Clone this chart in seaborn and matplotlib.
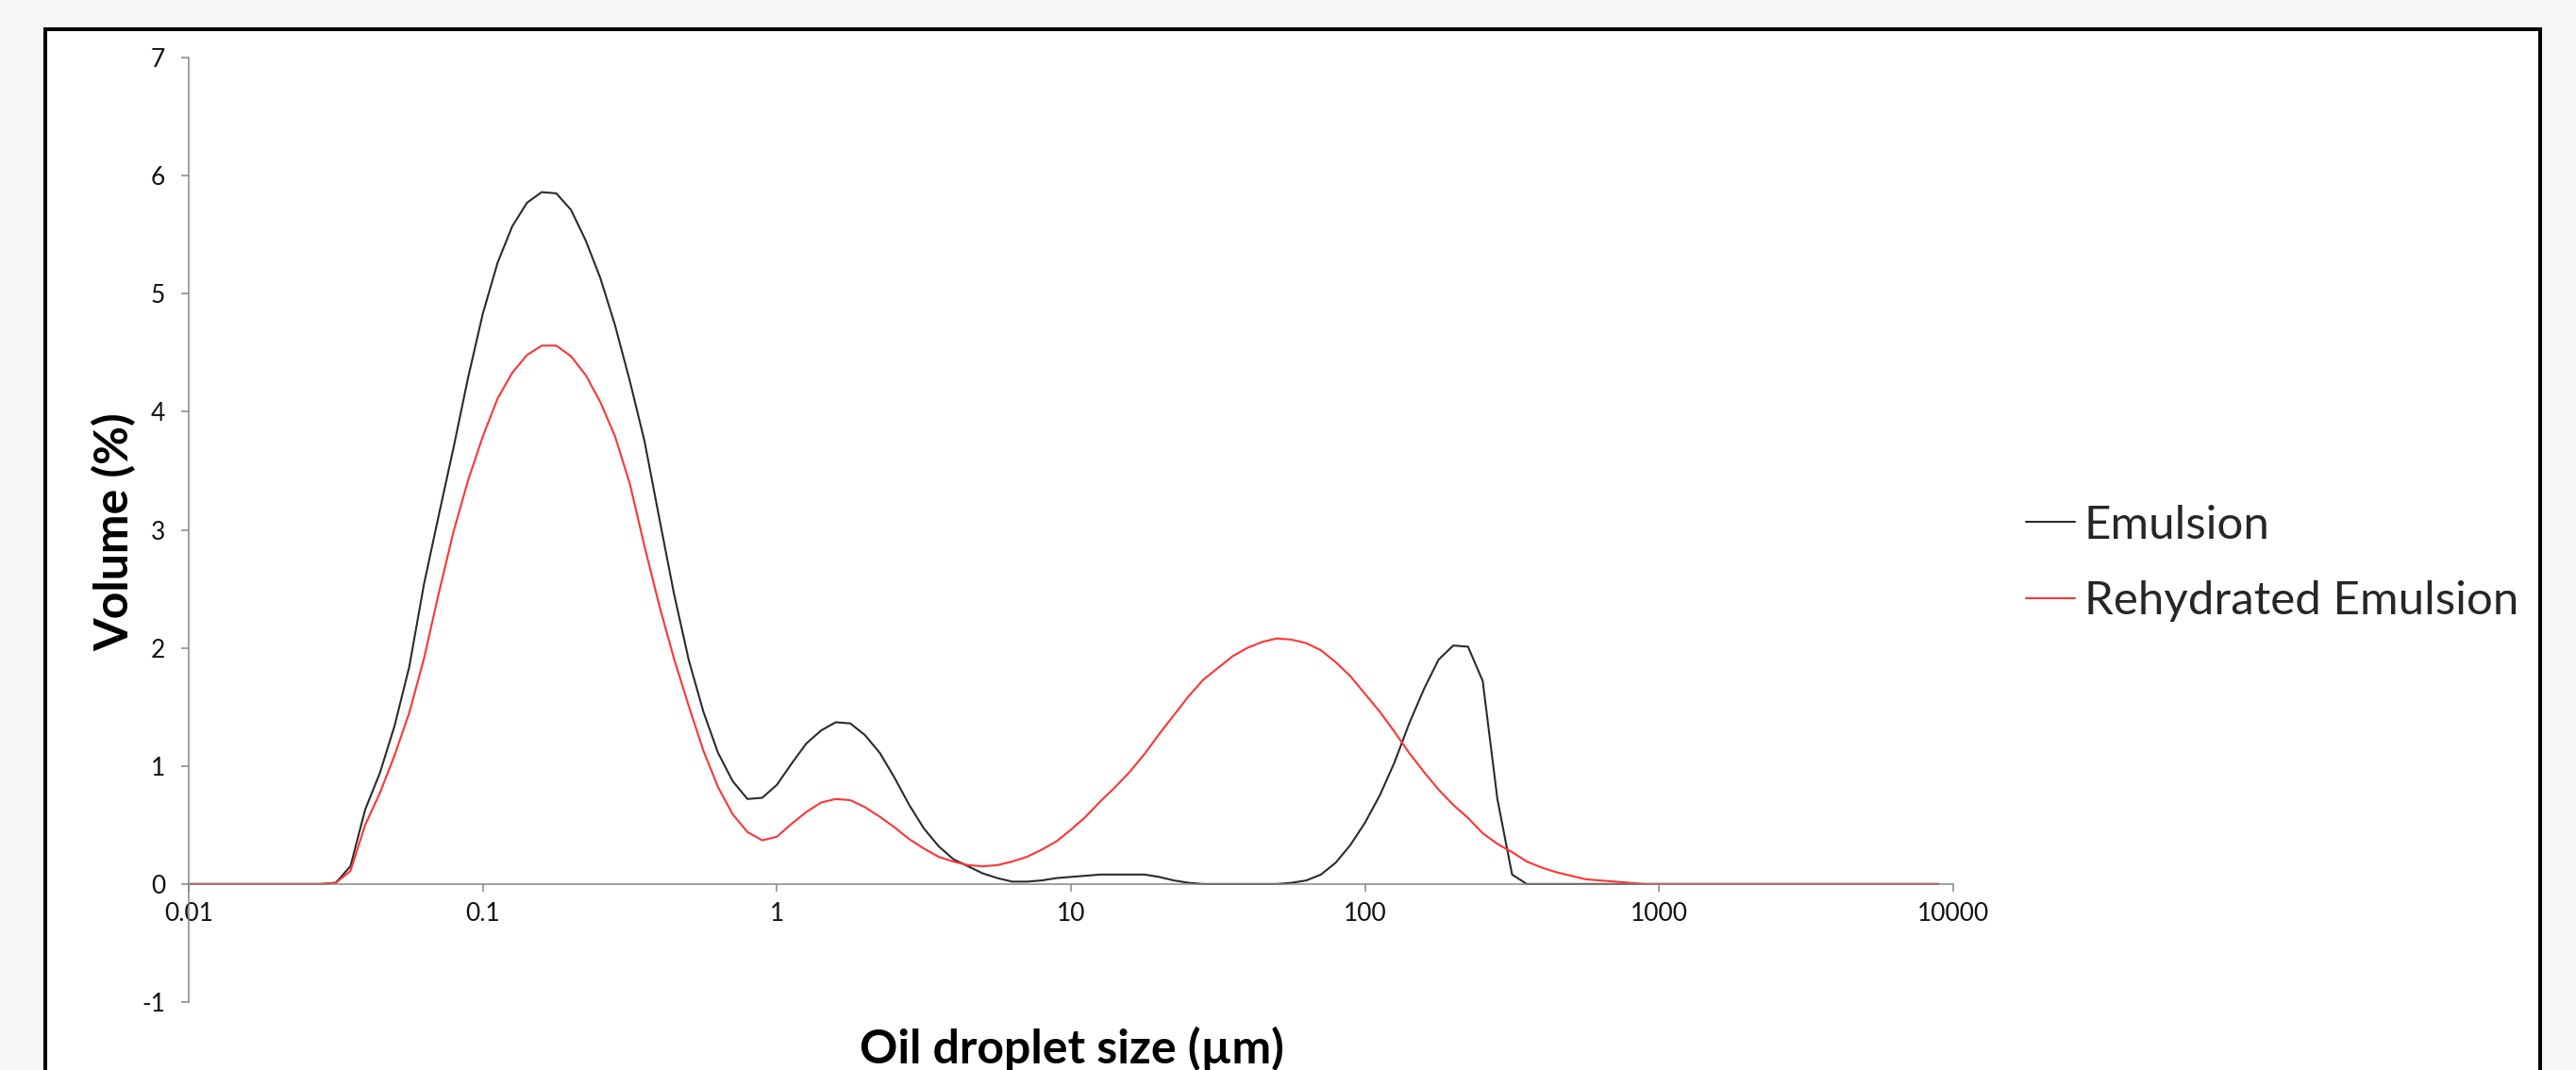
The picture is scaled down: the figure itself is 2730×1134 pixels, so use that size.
import matplotlib
matplotlib.use("Agg")
import matplotlib.pyplot as plt
from matplotlib.patches import Rectangle
import pandas as pd
import seaborn as sns

# ---------------- data ----------------
sizes_um = [
    0.01, 0.01122, 0.01259, 0.01413, 0.01585, 0.01778, 0.01995, 0.02239, 0.02512, 0.02818,
    0.03162, 0.03548, 0.03981, 0.04467, 0.05012, 0.05623, 0.0631, 0.07079, 0.07943, 0.08913,
    0.1, 0.1122, 0.1259, 0.1413, 0.1585, 0.1778, 0.1995, 0.2239, 0.2512, 0.2818,
    0.3162, 0.3548, 0.3981, 0.4467, 0.5012, 0.5623, 0.631, 0.7079, 0.7943, 0.8913,
    1.0, 1.122, 1.259, 1.413, 1.585, 1.778, 1.995, 2.239, 2.512, 2.818,
    3.162, 3.548, 3.981, 4.467, 5.012, 5.623, 6.31, 7.079, 7.943, 8.913,
    10.0, 11.22, 12.59, 14.13, 15.85, 17.78, 19.95, 22.39, 25.12, 28.18,
    31.62, 35.48, 39.81, 44.67, 50.12, 56.23, 63.1, 70.79, 79.43, 89.13,
    100.0, 112.2, 125.9, 141.3, 158.5, 177.8, 199.5, 223.9, 251.2, 281.8,
    316.2, 354.8, 398.1, 446.7, 501.2, 562.3, 631.0, 707.9, 794.3, 891.3,
    1000, 1122, 1259, 1413, 1585, 1778, 1995, 2239, 2512, 2818,
    3162, 3548, 3981, 4467, 5012, 5623, 6310, 7079, 7943, 8913,
]

emulsion = [
    0, 0, 0, 0, 0, 0, 0, 0, 0, 0,
    0.01, 0.15, 0.63, 0.94, 1.34, 1.84, 2.54, 3.12, 3.69, 4.29,
    4.83, 5.26, 5.57, 5.77, 5.86, 5.85, 5.71, 5.45, 5.13, 4.73,
    4.26, 3.75, 3.10, 2.46, 1.90, 1.46, 1.11, 0.87, 0.72, 0.73,
    0.84, 1.02, 1.19, 1.30, 1.37, 1.36, 1.26, 1.11, 0.90, 0.67,
    0.47, 0.32, 0.21, 0.15, 0.09, 0.05, 0.02, 0.02, 0.03, 0.05,
    0.06, 0.07, 0.08, 0.08, 0.08, 0.08, 0.06, 0.03, 0.01, 0,
    0, 0, 0, 0, 0, 0.01, 0.03, 0.08, 0.18, 0.33,
    0.52, 0.75, 1.03, 1.36, 1.65, 1.90, 2.02, 2.01, 1.72, 0.72,
    0.08, 0, 0, 0, 0, 0, 0, 0, 0, 0,
    0, 0, 0, 0, 0, 0, 0, 0, 0, 0,
    0, 0, 0, 0, 0, 0, 0, 0, 0, 0,
]

rehydrated = [
    0, 0, 0, 0, 0, 0, 0, 0, 0, 0,
    0.01, 0.11, 0.50, 0.77, 1.09, 1.45, 1.91, 2.46, 2.98, 3.42,
    3.79, 4.11, 4.33, 4.48, 4.56, 4.56, 4.47, 4.31, 4.08, 3.79,
    3.39, 2.86, 2.36, 1.91, 1.51, 1.13, 0.82, 0.59, 0.44, 0.37,
    0.40, 0.51, 0.61, 0.69, 0.72, 0.71, 0.65, 0.57, 0.48, 0.38,
    0.30, 0.23, 0.19, 0.16, 0.15, 0.16, 0.19, 0.23, 0.29, 0.36,
    0.46, 0.57, 0.70, 0.82, 0.95, 1.10, 1.27, 1.43, 1.59, 1.73,
    1.83, 1.93, 2.00, 2.05, 2.08, 2.07, 2.04, 1.98, 1.88, 1.76,
    1.61, 1.46, 1.29, 1.11, 0.95, 0.80, 0.67, 0.56, 0.43, 0.34,
    0.27, 0.19, 0.14, 0.10, 0.07, 0.04, 0.03, 0.02, 0.01, 0,
    0, 0, 0, 0, 0, 0, 0, 0, 0, 0,
    0, 0, 0, 0, 0, 0, 0, 0, 0, 0,
]

series_names = ["Emulsion", "Rehydrated Emulsion"]
series_colors = ["#2b2b2b", "#ff3333"]
x_ticks = [0.01, 0.1, 1, 10, 100, 1000, 10000]
x_tick_labels = ["0.01", "0.1", "1", "10", "100", "1000", "10000"]
y_ticks = [-1, 0, 1, 2, 3, 4, 5, 6, 7]
x_label = "Oil droplet size (µm)"
y_label = "Volume (%)"

# ---------------- table for seaborn ----------------
df = pd.concat([
    pd.DataFrame({"size": sizes_um, "volume": emulsion, "series": series_names[0]}),
    pd.DataFrame({"size": sizes_um, "volume": rehydrated, "series": series_names[1]}),
], ignore_index=True)

sns.set_theme(style="white")
plt.rcParams["font.family"] = ["Lato", "DejaVu Sans"]
plt.rcParams["axes.unicode_minus"] = False

W, H = 2730, 1134
fig = plt.figure(figsize=(W / 100, H / 100), dpi=100, facecolor="#f7f7f7")

# white chart area with a heavy black frame
frame = Rectangle((48 / W, -0.05), (2692 - 48) / W, 1 - 31 / H + 0.05,
                  transform=fig.transFigure, facecolor="white",
                  edgecolor="black", lw=2.9, zorder=-1)
fig.patches.append(frame)

ax = fig.add_axes([200 / W, 1 - 1062 / H, 1870 / W, 1001 / H])
ax.set_facecolor("none")
ax.set_xscale("log")

sns.lineplot(data=df, x="size", y="volume", hue="series",
             palette=dict(zip(series_names, series_colors)),
             estimator=None, sort=False, lw=1.5, ax=ax)

ax.set_xlim(0.01, 10000)
ax.set_ylim(-1, 7)
ax.set_xticks(x_ticks)
ax.set_xticklabels(x_tick_labels)
ax.set_yticks(y_ticks)
ax.minorticks_off()

axis_gray = "#868686"
for side in ["top", "right"]:
    ax.spines[side].set_visible(False)
for side in ["left", "bottom"]:
    ax.spines[side].set_color(axis_gray)
    ax.spines[side].set_linewidth(1.1)
ax.spines["bottom"].set_position(("data", 0))

ax.tick_params(axis="both", which="major", direction="out", length=5.8,
               width=1.1, color=axis_gray, labelsize=19, labelcolor="#111111")
ax.tick_params(axis="y", pad=12, left=True)
ax.tick_params(axis="x", pad=8, bottom=True)

ax.set_xlabel(x_label, fontsize=36, fontweight="bold", color="black")
ax.set_ylabel(y_label, fontsize=36, fontweight="bold", color="black")
ax.xaxis.set_label_coords((1136 - 200) / 1870, (1062 - 1127) / 1001)
ax.xaxis.label.set_verticalalignment("baseline")
ax.yaxis.set_label_coords((136 - 200) / 1870, (1062 - 564) / 1001)
ax.yaxis.label.set_verticalalignment("baseline")

leg = ax.legend(loc="center left", bbox_to_anchor=(2147 / W, 1 - 597 / H),
                bbox_transform=fig.transFigure, frameon=False, fontsize=35.5,
                handlelength=1.05, handletextpad=0.2, labelspacing=0.75,
                borderpad=0, borderaxespad=0, title=None)
for line in leg.get_lines():
    line.set_linewidth(1.5)

fig.savefig("out.png", dpi=100, facecolor=fig.get_facecolor())
